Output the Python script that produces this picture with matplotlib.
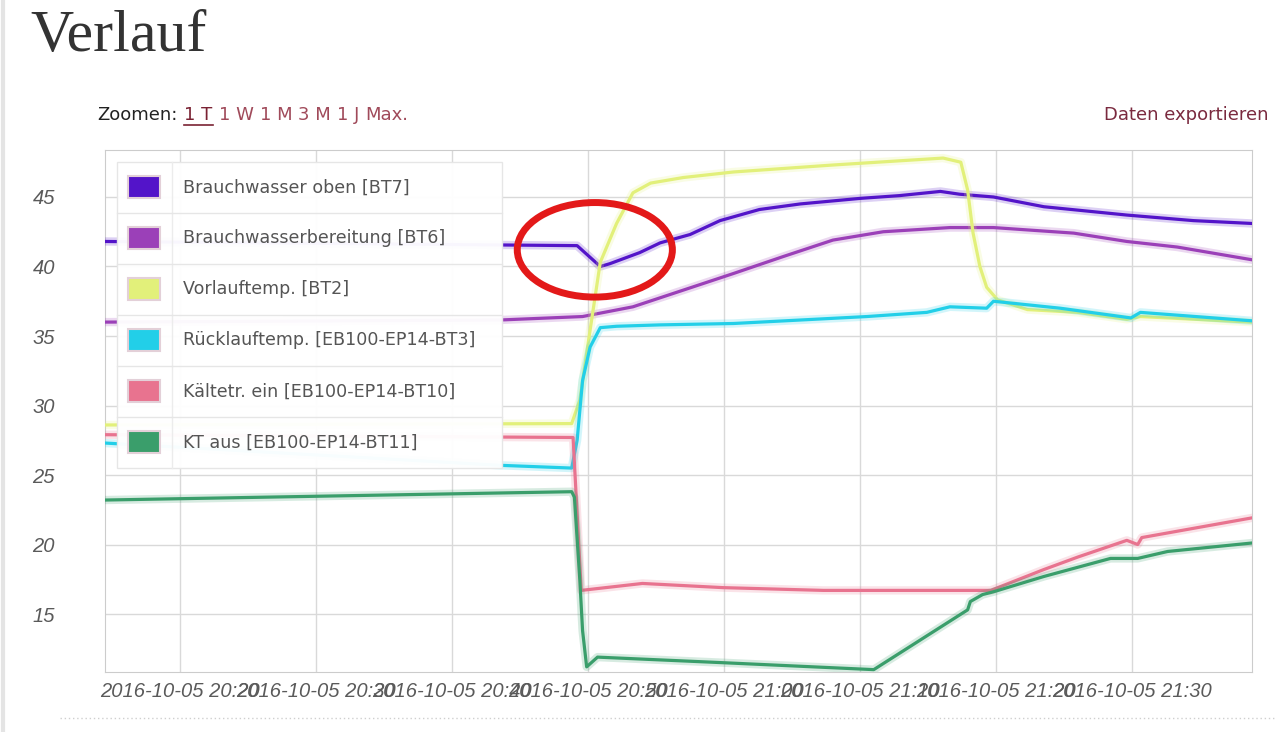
import matplotlib
matplotlib.use("Agg")
import numpy as np
import pandas as pd
import matplotlib.pyplot as plt
import matplotlib.dates as mdates
from matplotlib.patches import Ellipse, Rectangle

start = pd.Timestamp("2016-10-05 20:00")

# minutes after 20:00 and temperatures
bt7_min = [14.5, 49.2, 50.9, 51.6, 53.8, 55.3, 57.5, 59.7, 62.6, 65.6, 70.0, 72.9, 75.9, 77.3, 79.8, 83.5, 89.6, 94.5, 98.7]
bt7_val = [41.8, 41.5, 40.0, 40.2, 41.0, 41.7, 42.3, 43.3, 44.1, 44.5, 44.9, 45.1, 45.4, 45.2, 45.0, 44.3, 43.7, 43.3, 43.1]

bt6_min = [14.5, 43.5, 49.6, 53.3, 57.0, 60.7, 64.3, 68.0, 71.7, 76.6, 79.8, 85.7, 89.6, 93.3, 98.7]
bt6_val = [36.0, 36.15, 36.4, 37.1, 38.3, 39.5, 40.7, 41.9, 42.5, 42.8, 42.8, 42.4, 41.8, 41.4, 40.5]

bt2_min = [14.5, 48.8, 49.4, 50.15, 50.9, 52.1, 53.3, 54.6, 57.0, 60.7, 68.0, 76.1, 77.4, 77.9, 78.3, 78.8, 79.3, 80.1, 82.3, 86.0, 89.6, 90.6, 98.7]
bt2_val = [28.6, 28.7, 30.4, 35.4, 40.3, 43.1, 45.3, 46.0, 46.4, 46.8, 47.3, 47.8, 47.5, 45.5, 42.4, 40.0, 38.5, 37.6, 36.9, 36.7, 36.2, 36.4, 36.0]

bt3_min = [14.5, 43.5, 48.8, 49.2, 49.6, 50.15, 50.9, 52.1, 55.3, 60.7, 70.5, 74.9, 76.6, 79.3, 79.8, 84.7, 89.9, 90.6, 98.7]
bt3_val = [27.3, 25.7, 25.5, 27.5, 31.8, 34.2, 35.6, 35.7, 35.8, 35.9, 36.4, 36.7, 37.1, 37.0, 37.5, 37.0, 36.3, 36.7, 36.1]

bt10_min = [14.5, 48.9, 49.5, 54.0, 59.9, 67.3, 79.6, 83.5, 86.0, 89.6, 90.4, 90.7, 98.7]
bt10_val = [27.9, 27.7, 16.7, 17.2, 16.9, 16.7, 16.7, 18.2, 19.1, 20.3, 20.0, 20.5, 21.9]

bt11_min = [14.5, 48.8, 49.0, 49.4, 49.6, 49.9, 50.7, 59.9, 71.0, 77.9, 78.1, 79.0, 79.8, 83.5, 88.4, 90.4, 92.6, 98.7]
bt11_val = [23.2, 23.8, 23.4, 17.4, 13.8, 11.2, 11.9, 11.5, 11.0, 15.3, 15.9, 16.4, 16.6, 17.7, 19.0, 19.0, 19.5, 20.1]

names = ["Brauchwasser oben [BT7]", "Brauchwasserbereitung [BT6]", "Vorlauftemp. [BT2]",
         "Rücklauftemp. [EB100-EP14-BT3]", "Kältetr. ein [EB100-EP14-BT10]", "KT aus [EB100-EP14-BT11]"]
colors = ["#5314c9", "#9b40b8", "#e2f07a", "#22cfe8", "#e8738f", "#3a9e6b"]
series = [(bt7_min, bt7_val), (bt6_min, bt6_val), (bt2_min, bt2_val),
          (bt3_min, bt3_val), (bt10_min, bt10_val), (bt11_min, bt11_val)]

zoom_labels = ["1 T", "1 W", "1 M", "3 M", "1 J", "Max."]


def to_time(m):
    return start + pd.to_timedelta(np.array(m), unit="min")


fig = plt.figure(figsize=(12.8, 7.32), dpi=100)
ax = fig.add_axes([105 / 1280, 1 - 672 / 732, 1147 / 1280, 522 / 732])

for (m, v), c in zip(series, colors):
    t = to_time(m)
    ax.plot(t, v, color=c, lw=6, alpha=0.2, solid_joinstyle="round", zorder=3)
    ax.plot(t, v, color=c, lw=2.3, solid_joinstyle="round", zorder=3)

ax.set_xlim(to_time([14.5])[0], to_time([98.8])[0])
ax.set_ylim(10.83, 48.38)
ax.set_yticks([15, 20, 25, 30, 35, 40, 45])
ax.xaxis.set_major_locator(mdates.MinuteLocator(byminute=range(0, 60, 10)))
ax.xaxis.set_major_formatter(mdates.DateFormatter("%Y-%m-%d %H:%M"))
ax.grid(color="#d9d9d9", lw=1, zorder=0)
for s in ax.spines.values():
    s.set_color("#cccccc")
ax.tick_params(axis="both", length=0, labelcolor="#5a5a5a", labelsize=14.5)
ax.tick_params(axis="y", pad=36)
ax.tick_params(axis="x", pad=7)
for lab in ax.get_xticklabels() + ax.get_yticklabels():
    lab.set_family("Liberation Sans")
    lab.set_style("italic")

# red marking around the dip
ell = Ellipse((mdates.date2num(to_time([50.5])[0]), 41.2), width=11.4 / 1440, height=6.8,
              fill=False, edgecolor="#e31919", lw=5, zorder=6)
ax.add_patch(ell)

# legend box with rows
lx0, lx1, ly_top, ly_bot = 0.0105, 0.346, 0.977, 0.391
row_h = (ly_top - ly_bot) / len(names)
ax.add_patch(Rectangle((lx0, ly_bot), lx1 - lx0, ly_top - ly_bot, transform=ax.transAxes,
                       facecolor="white", alpha=0.97, edgecolor="#e6e6e6", lw=1, zorder=8))
sep_x = (172 - 105) / 1147
ax.plot([sep_x, sep_x], [ly_bot, ly_top], transform=ax.transAxes, color="#ececec", lw=1, zorder=9)
sw_x0, sw_w = (128 - 105) / 1147, 32 / 1147
sw_h = 22 / 522
for i, (n, c) in enumerate(zip(names, colors)):
    yc = ly_top - (i + 0.5) * row_h
    if i > 0:
        yl = ly_top - i * row_h
        ax.plot([lx0, lx1], [yl, yl], transform=ax.transAxes, color="#e6e6e6", lw=1, zorder=9)
    ax.add_patch(Rectangle((sw_x0, yc - sw_h / 2), sw_w, sw_h, transform=ax.transAxes,
                           facecolor=c, edgecolor="#e3d0d8", lw=1.5, zorder=9))
    ax.text((183 - 105) / 1147, yc, n, transform=ax.transAxes, fontsize=12.6,
            color="#555555", va="center", ha="left", family="DejaVu Sans", zorder=10)

# page texts
fig.text(30 / 1280, 1 - 37 / 732, "Verlauf", fontsize=43, family="Liberation Serif",
         color="#333333", va="center", ha="left")
fig.text(1268 / 1280, 1 - 115 / 732, "Daten exportieren", fontsize=13, color="#7a2a3f",
         va="center", ha="right", family="DejaVu Sans")

renderer = fig.canvas.get_renderer()
zt = fig.text(97 / 1280, 1 - 115 / 732, "Zoomen:", fontsize=13, color="#222222",
              va="center", ha="left", family="DejaVu Sans")
bb = zt.get_window_extent(renderer)
x = bb.x1 + 7
for i, lab in enumerate(zoom_labels):
    col = "#7a2233" if i == 0 else "#a04a5a"
    t = fig.text(x / 1280, 1 - 115 / 732, lab, fontsize=13, color=col,
                 va="center", ha="left", family="DejaVu Sans")
    b = t.get_window_extent(renderer)
    if i == 0:
        fig.add_artist(plt.Line2D([b.x0 / 1280, b.x1 / 1280], [(b.y0 - 1) / 732] * 2,
                                  color=col, lw=1.2))
    x = b.x1 + 6

# dotted separator and left page edge
fig.add_artist(plt.Line2D([60 / 1280, 1275 / 1280], [1 - 718 / 732] * 2, color="#cfcfcf",
                          lw=1, linestyle=(0, (1, 2))))
fig.add_artist(plt.Line2D([3 / 1280, 3 / 1280], [0, 1], color="#e4e4e4", lw=3))

fig.savefig("out.png", dpi=100)
